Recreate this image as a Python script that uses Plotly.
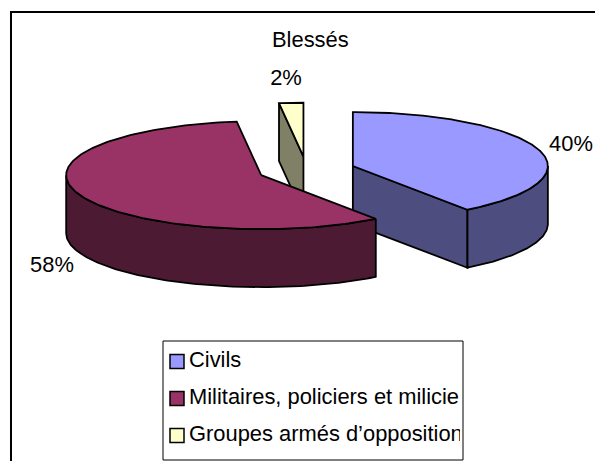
import numpy as np
import plotly.graph_objects as go

# Data
categories = ["Civils", "Militaires, policiers et milicies", "Groupes armés d’opposition"]
legend_labels = ["Civils", "Militaires, policiers et milicie", "Groupes armés d’opposition"]
values = [40, 58, 2]
title = "Blessés"

# Styles
top_colors = ["#9999FF", "#993366", "#FFFFCC"]
side_colors = ["#4D4D80", "#4D1A33", "#808066"]
FONT = "Liberation Sans, Arial, sans-serif"
FS = 21.9
LW = 1.8

# Geometry of the projected pie (pixel-like axis units)
W, H = 595, 461
CX, CY = 306.5, 170.2
RX, RY = 195.0, 54.0
DEPTH = 58.0
EXPLODE = 0.25
label_pos = [(571, 146), (52, 267), (286, 80)]

fig = go.Figure()


def pt(c, theta, r=1.0):
    return c[0] + RX * r * np.sin(theta), c[1] - RY * r * np.cos(theta)


def poly(xs, ys, color, name):
    fig.add_trace(go.Scatter(
        x=list(xs) + [xs[0]], y=list(ys) + [ys[0]], mode="lines", fill="toself",
        fillcolor=color, line=dict(color="black", width=LW), name=name,
        showlegend=False, hoverinfo="skip"))


# slice angles
total = sum(values)
edges = np.cumsum([0] + values) / total * 2 * np.pi
slices = {}
for i, v in enumerate(values):
    a0, a1 = edges[i], edges[i + 1]
    mid = (a0 + a1) / 2
    slices[i] = (a0, a1, pt((CX, CY), mid, EXPLODE))


def draw_slice(i):
    a0, a1, c = slices[i]
    name = categories[i]
    # radial walls: drawn only when they face the viewer
    for ang, sign in ((a0, -1), (a1, 1)):
        normal = ang + sign * np.pi / 2
        if np.cos(normal) < -1e-9:
            ex, ey = pt(c, ang)
            poly([c[0], ex, ex, c[0]], [c[1], ey, ey + DEPTH, c[1] + DEPTH],
                 side_colors[i], name)
    # outer wall: only the front half (pi/2..3pi/2) is visible
    lo, hi = max(a0, np.pi / 2), min(a1, 3 * np.pi / 2)
    if lo < hi:
        t = np.linspace(lo, hi, 120)
        xs, ys = pt(c, t)
        poly(np.r_[xs, xs[::-1]], np.r_[ys, ys[::-1] + DEPTH], side_colors[i], name)
    # top
    t = np.linspace(a0, a1, 200)
    xs, ys = pt(c, t)
    poly(np.r_[c[0], xs], np.r_[c[1], ys], top_colors[i], name)


for i in (2, 0, 1):
    draw_slice(i)

# percentage labels
fig.add_trace(go.Scatter(
    x=[p[0] for p in label_pos], y=[p[1] for p in label_pos], mode="text",
    text=[f"{v}%" for v in values], textposition="middle center",
    textfont=dict(family=FONT, size=FS, color="black"),
    showlegend=False, hoverinfo="skip"))

# legend (box, swatches, clipped labels)
box = dict(x0=163, x1=463, y0=341, y1=460)
row_y = [361, 398, 435]
fig.add_trace(go.Scatter(
    x=[177] * 3, y=[r + 0.5 for r in row_y], mode="markers",
    marker=dict(symbol="square", size=14, color=top_colors[:3],
                line=dict(color="black", width=1.5)),
    showlegend=False, hoverinfo="skip"))
fig.add_trace(go.Scatter(
    x=[189] * 3, y=[r + 1 for r in row_y], mode="text", text=legend_labels,
    textposition="middle right",
    textfont=dict(family=FONT, size=FS, color="black"),
    xaxis="x2", yaxis="y2", cliponaxis=True,
    showlegend=False, hoverinfo="skip"))

CLIP_R = 460
fig.update_layout(
    width=W, height=H, margin=dict(l=0, r=0, t=0, b=0, pad=0), autosize=False,
    paper_bgcolor="white", plot_bgcolor="rgba(0,0,0,0)", hovermode=False,
    showlegend=False,
    xaxis=dict(range=[0, W], visible=False, domain=[0, 1], fixedrange=True),
    yaxis=dict(range=[H, 0], visible=False, domain=[0, 1], fixedrange=True),
    xaxis2=dict(range=[0, CLIP_R], visible=False, domain=[0, CLIP_R / W],
                anchor="y2", fixedrange=True),
    yaxis2=dict(range=[H, 0], visible=False, domain=[0, 1], anchor="x2", fixedrange=True),
    shapes=[
        dict(type="rect", xref="x", yref="y", x0=11, x1=W + 10, y0=12, y1=H + 10,
             line=dict(color="black", width=2), fillcolor="rgba(0,0,0,0)", layer="below"),
        dict(type="rect", xref="x", yref="y", line=dict(color="black", width=1),
             fillcolor="white", layer="below", **box),
    ],
    annotations=[dict(
        text=title, x=310, y=39, xref="x", yref="y", showarrow=False,
        font=dict(family=FONT, size=FS, color="black"))],
)

fig.write_html("out.html", post_script="document.body.style.margin='0';",
               config=dict(displayModeBar=False))
